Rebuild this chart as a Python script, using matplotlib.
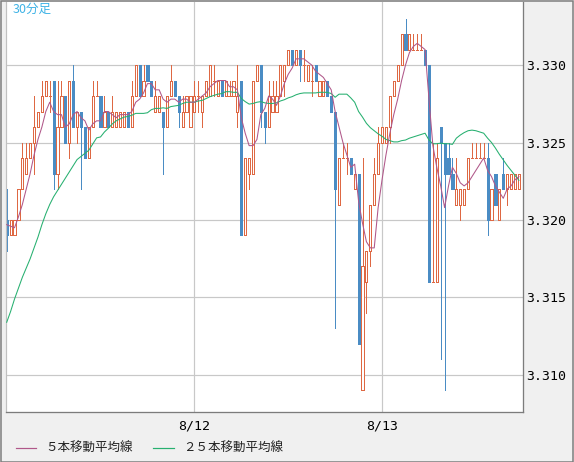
import matplotlib
matplotlib.use("Agg")
import matplotlib.pyplot as plt
from matplotlib.lines import Line2D
from matplotlib.patches import Rectangle
import numpy as np
import pandas as pd

# ---- data (prices in units of 0.001, i.e. price = value / 1000) ----
opens = [3320, 3319, 3319, 3320, 3322, 3323, 3324, 3325, 3326, 3327,
         3328, 3328, 3329, 3323, 3326, 3328, 3325, 3329, 3326, 3327,
         3326, 3324, 3326, 3328, 3328, 3326, 3327, 3326, 3326, 3326,
         3326, 3327, 3326, 3328, 3330, 3328, 3330, 3329, 3327, 3327,
         3327, 3326, 3328, 3329, 3328, 3326, 3327, 3326, 3327, 3328,
         3327, 3328, 3328, 3329, 3328, 3329, 3328, 3328, 3328, 3327,
         3329, 3319, 3323, 3323, 3329, 3330, 3327, 3326, 3327, 3327,
         3328, 3329, 3330, 3331, 3330, 3331, 3330, 3329, 3329, 3330,
         3328, 3328, 3329, 3328, 3327, 3321, 3324, 3324, 3324, 3322,
         3323, 3309, 3316, 3318, 3321, 3323, 3325, 3325, 3326, 3328,
         3329, 3330, 3332, 3331, 3331, 3331, 3331, 3331, 3330, 3316,
         3316, 3326, 3325, 3324, 3323, 3321, 3321, 3321, 3322, 3324,
         3324, 3324, 3324, 3324, 3320, 3323, 3320, 3323, 3322, 3322,
         3322, 3322]
closes = [3319, 3320, 3320, 3322, 3324, 3324, 3325, 3326, 3327, 3328,
          3329, 3328, 3323, 3326, 3328, 3325, 3329, 3326, 3327, 3326,
          3324, 3326, 3328, 3328, 3326, 3327, 3326, 3327, 3327, 3327,
          3327, 3326, 3328, 3330, 3328, 3329, 3329, 3328, 3328, 3328,
          3326, 3328, 3329, 3328, 3327, 3327, 3328, 3328, 3328, 3328,
          3328, 3329, 3330, 3329, 3329, 3328, 3329, 3328, 3329, 3328,
          3319, 3324, 3324, 3329, 3330, 3327, 3326, 3328, 3328, 3328,
          3330, 3330, 3331, 3330, 3331, 3330, 3330, 3330, 3329, 3329,
          3329, 3329, 3328, 3327, 3322, 3324, 3324, 3324, 3323, 3323,
          3312, 3317, 3318, 3321, 3323, 3325, 3326, 3326, 3328, 3329,
          3330, 3332, 3331, 3332, 3331, 3331, 3331, 3330, 3316, 3316,
          3324, 3325, 3323, 3323, 3322, 3322, 3322, 3322, 3324, 3324,
          3324, 3324, 3324, 3320, 3322, 3321, 3322, 3322, 3323, 3323,
          3323, 3323]
highs = [3322, 3320, 3320, 3322, 3325, 3325, 3325, 3328, 3327, 3329,
         3329, 3329, 3329, 3329, 3329, 3328, 3329, 3330, 3327, 3327,
         3326, 3326, 3329, 3329, 3328, 3328, 3327, 3328, 3327, 3327,
         3327, 3327, 3329, 3330, 3330, 3330, 3330, 3329, 3329, 3328,
         3327, 3328, 3330, 3329, 3328, 3328, 3328, 3328, 3329, 3329,
         3328, 3329, 3330, 3330, 3329, 3329, 3329, 3329, 3329, 3330,
         3329, 3324, 3324, 3329, 3330, 3330, 3327, 3329, 3329, 3329,
         3330, 3330, 3331, 3331, 3331, 3331, 3331, 3330, 3330, 3330,
         3329, 3329, 3329, 3328, 3327, 3324, 3325, 3325, 3324, 3323,
         3323, 3324, 3318, 3321, 3324, 3326, 3326, 3326, 3328, 3329,
         3330, 3332, 3333, 3332, 3332, 3332, 3332, 3331, 3330, 3325,
         3325, 3326, 3325, 3325, 3324, 3324, 3322, 3322, 3324, 3325,
         3325, 3325, 3325, 3325, 3322, 3323, 3322, 3324, 3323, 3323,
         3323, 3323]
lows = [3318, 3319, 3319, 3320, 3322, 3323, 3324, 3323, 3326, 3327,
        3328, 3327, 3322, 3322, 3326, 3325, 3324, 3326, 3325, 3322,
        3324, 3324, 3326, 3328, 3326, 3326, 3326, 3326, 3326, 3326,
        3326, 3326, 3326, 3328, 3328, 3328, 3329, 3328, 3327, 3327,
        3323, 3326, 3328, 3328, 3326, 3326, 3327, 3326, 3327, 3327,
        3326, 3328, 3328, 3328, 3328, 3328, 3328, 3328, 3328, 3326,
        3319, 3319, 3322, 3323, 3329, 3326, 3325, 3326, 3327, 3327,
        3328, 3328, 3330, 3330, 3330, 3329, 3329, 3329, 3328, 3329,
        3328, 3328, 3328, 3327, 3313, 3321, 3324, 3323, 3323, 3322,
        3312, 3309, 3314, 3317, 3321, 3323, 3325, 3325, 3325, 3328,
        3329, 3330, 3331, 3331, 3331, 3331, 3331, 3330, 3316, 3316,
        3316, 3311, 3309, 3323, 3322, 3321, 3320, 3321, 3322, 3324,
        3324, 3324, 3324, 3319, 3320, 3321, 3320, 3322, 3321, 3322,
        3322, 3322]

# moving-average values at the left edge (window starts before the chart)
ma25_head = [3313.4, 3314.1, 3314.9, 3315.6, 3316.3, 3316.9, 3317.5, 3318.2,
             3318.9, 3319.7, 3320.4, 3321.0, 3321.5, 3321.9, 3322.3, 3322.7,
             3323.1, 3323.5, 3323.9, 3324.1, 3324.3, 3324.5, 3324.9, 3325.3]
ma5_head = [3319.7, 3319.6, 3319.5, 3320.2]

date_labels = ["8/12", "8/13"]
date_positions = [48, 96]
y_ticks = [3.310, 3.315, 3.320, 3.325, 3.330]
legend_labels = ["５本移動平均線", "２５本移動平均線"]
title_text = "30分足"

# ---- derived ----
o = np.array(opens) / 1000.0
c = np.array(closes) / 1000.0
h = np.array(highs) / 1000.0
l = np.array(lows) / 1000.0
idx = np.arange(len(o))
cs = pd.Series(c)
ma5 = cs.rolling(5).mean().values
ma5[:4] = np.array(ma5_head) / 1000.0
ma25 = cs.rolling(25).mean().values
ma25[:24] = np.array(ma25_head) / 1000.0

UP = "#de6843"
DOWN = "#4a8cc4"
C5 = "#b0588a"
C25 = "#27b070"
GRID = "#c8c8c8"
PX = 72.0 / 100.0  # one pixel in points

W, H = 574, 462
fig = plt.figure(figsize=(W / 100, H / 100), dpi=100, facecolor="#f0f0f0")
ax = fig.add_axes([6 / W, 1 - 412 / H, 517 / W, (412 - 1.5) / H])
ax.set_facecolor("white")

up = c > o
down = c < o
doji = c == o
body_w = 0.55

# wicks
top = np.maximum(o, c)
bot = np.minimum(o, c)
for mask, col in ((up | doji, UP), (down, DOWN)):
    ax.vlines(idx[mask], top[mask], h[mask], colors=col, linewidth=PX,
              antialiased=False, zorder=2)
    ax.vlines(idx[mask], l[mask], bot[mask], colors=col, linewidth=PX,
              antialiased=False, zorder=2)

# bodies
ax.bar(idx[up], (c - o)[up], bottom=o[up], width=body_w, facecolor="white",
       edgecolor=UP, linewidth=PX, antialiased=False, zorder=2)
ax.bar(idx[down], (o - c)[down], bottom=c[down], width=body_w, facecolor=DOWN,
       edgecolor=DOWN, linewidth=PX, antialiased=False, zorder=2)
ax.hlines(c[doji], idx[doji] - body_w / 2, idx[doji] + body_w / 2, colors=UP,
          linewidth=PX, antialiased=False, zorder=2)

# moving averages
ax.plot(idx, ma25, color=C25, linewidth=PX * 1.05, antialiased=True, zorder=3)
ax.plot(idx, ma5, color=C5, linewidth=PX * 1.05, antialiased=True, zorder=3)

ax.set_xlim(-0.18, 132.05)
ax.set_ylim(3.30761, 3.33410)

ax.set_xticks(date_positions)
ax.set_xticklabels(date_labels)
ax.set_yticks(y_ticks)
ax.set_yticklabels([f"{v:.3f}" for v in y_ticks])
ax.yaxis.tick_right()
ax.tick_params(axis="both", length=0, labelsize=9.5, colors="black",
               labelfontfamily="DejaVu Sans Mono")
ax.tick_params(axis="y", pad=2.5)
ax.tick_params(axis="x", pad=5.5)
ax.grid(True, color=GRID, linewidth=PX * 1.2, zorder=0)
ax.set_axisbelow(True)

ax.spines["top"].set_visible(False)
ax.spines["left"].set_color("#c0c0c0")
ax.spines["left"].set_linewidth(PX * 1.2)
ax.spines["right"].set_color("#7c7c7c")
ax.spines["right"].set_linewidth(PX * 1.3)
ax.spines["bottom"].set_color("#7c7c7c")
ax.spines["bottom"].set_linewidth(PX * 1.3)

# outer frame
fig.patches.append(Rectangle((0.5 / W, 0.5 / H), 1 - 1.5 / W, 1 - 1.5 / H,
                             transform=fig.transFigure, fill=False,
                             edgecolor="#7c7c7c", linewidth=PX * 1.5))

# chart title
fig.text(13 / W, 1 - 3 / H, title_text, ha="left", va="top", fontsize=9,
         color="#3fb3e6", family=["Noto Sans CJK JP", "DejaVu Sans"])

# legend
leg_y = 1 - 448 / H
for (x0, x1, tx), lab, col in zip(((16, 36, 45), (153, 174, 183)),
                                   legend_labels, (C5, C25)):
    fig.add_artist(Line2D([x0 / W, x1 / W], [leg_y, leg_y],
                          transform=fig.transFigure, color=col,
                          linewidth=PX * 1.2))
    fig.text(tx / W, leg_y, lab, ha="left", va="center", fontsize=9,
             color="#222222", family=["Noto Sans CJK JP", "DejaVu Sans"])

fig.savefig("out.png", dpi=100, facecolor=fig.get_facecolor())
